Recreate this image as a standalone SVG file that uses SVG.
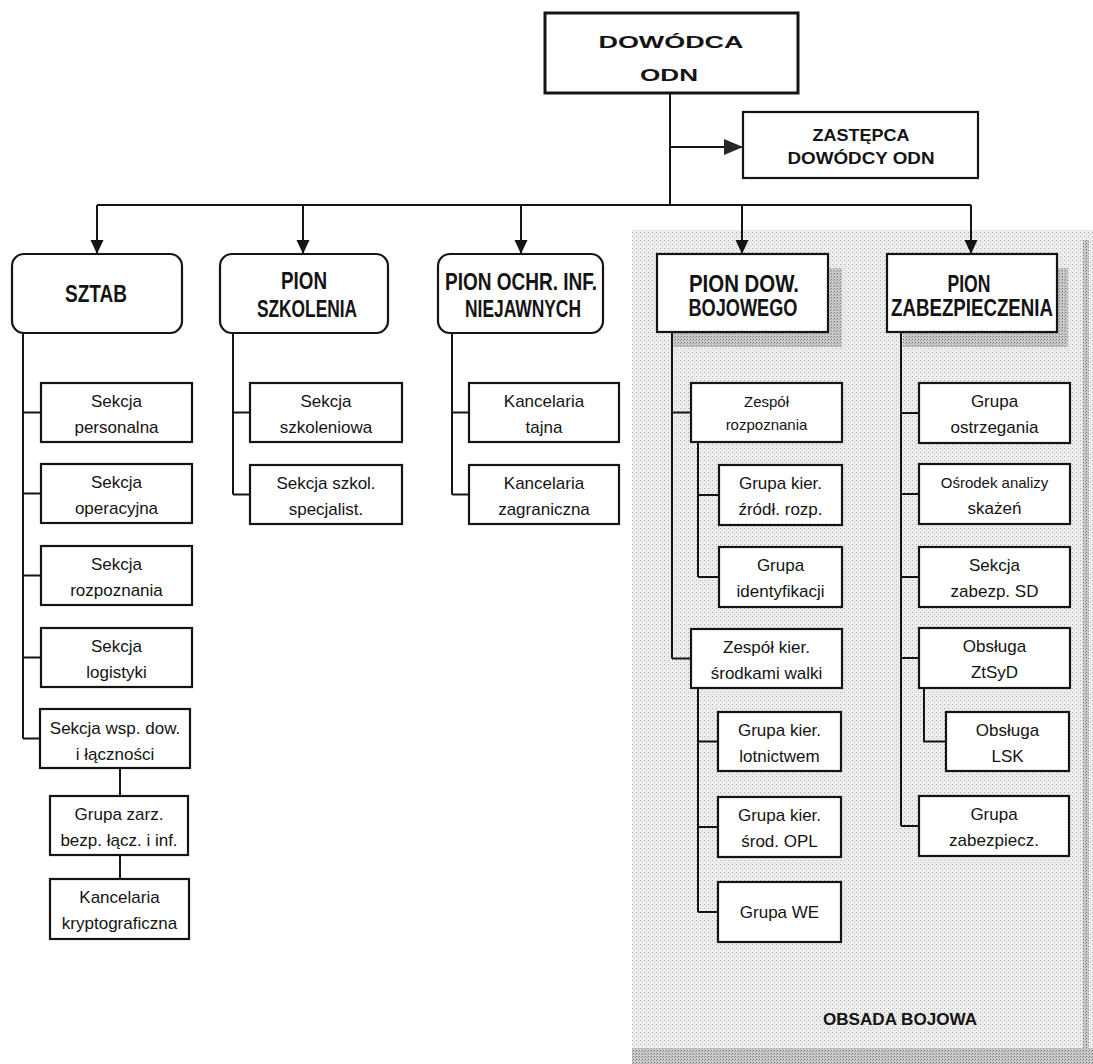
<svg xmlns="http://www.w3.org/2000/svg" width="1093" height="1064" viewBox="0 0 1093 1064">
  <defs>
    <style>
      .box { fill: #ffffff; stroke: #141414; stroke-width: 2.2; }
      .main { stroke-width: 3; }
      .conn { fill: none; stroke: #141414; stroke-width: 2; }
      .t { font-family: "Liberation Sans", Arial, sans-serif; font-size: 17px; text-anchor: middle; fill: #141414; }
      .s { font-size: 15px; }
      .h { font-weight: bold; font-size: 23px; }
    </style>
    <!-- screened grey background of the right-hand part of the page -->
    <pattern id="grain" width="4" height="4" patternUnits="userSpaceOnUse">
      <rect width="4" height="4" fill="#eeeeee"/>
      <rect x="0" y="0" width="1" height="1" fill="#aaaaaa"/>
      <rect x="2" y="2" width="1" height="1" fill="#c6c6c6"/>
    </pattern>
    <!-- darker screen used for drop shadows and page edges -->
    <pattern id="grainDark" width="3" height="3" patternUnits="userSpaceOnUse">
      <rect width="3" height="3" fill="#cbcbcb"/>
      <rect x="0" y="0" width="1" height="1" fill="#777777"/>
      <rect x="2" y="1" width="1" height="1" fill="#9a9a9a"/>
    </pattern>
    <marker id="arrow" markerUnits="userSpaceOnUse" markerWidth="14" markerHeight="14" refX="14" refY="6.5" orient="auto">
      <path d="M0,0 L14,6.5 L0,13 z" fill="#141414"/>
    </marker>
    <marker id="arrowBig" markerUnits="userSpaceOnUse" markerWidth="20" markerHeight="18" refX="19" refY="8" orient="auto">
      <path d="M0,0 L19,8 L0,16 z" fill="#262626"/>
    </marker>
  </defs>

  <rect width="1093" height="1064" fill="#ffffff"/>

  <!-- page background -->
  <g id="page">
    <rect x="632" y="230" width="461" height="834" fill="url(#grain)"/>
    <rect x="1083" y="240" width="6" height="824" fill="url(#grainDark)"/>
    <rect x="632" y="1048" width="461" height="16" fill="url(#grainDark)"/>
    <!-- drop shadows -->
    <path d="M828,268 H842 V347 H673 V332 H828 Z" fill="url(#grainDark)"/>
    <path d="M1057,268 H1068 V347 H903 V332 H1057 Z" fill="url(#grainDark)"/>
  </g>

  <g id="connectors">
    <!-- commander to deputy and to the five divisions -->
    <path class="conn" d="M670,93 V205"/>
    <path class="conn" d="M670,147 H743" marker-end="url(#arrowBig)"/>
    <path class="conn" d="M97,205 H971"/>
    <path class="conn" d="M97,205 V254" marker-end="url(#arrow)"/>
    <path class="conn" d="M303,205 V254" marker-end="url(#arrow)"/>
    <path class="conn" d="M521,205 V254" marker-end="url(#arrow)"/>
    <path class="conn" d="M742,205 V254" marker-end="url(#arrow)"/>
    <path class="conn" d="M971,205 V254" marker-end="url(#arrow)"/>
    <!-- SZTAB -->
    <path class="conn" d="M23,333 V738.5 M23,412.5 H41 M23,493.5 H41 M23,575.5 H41 M23,657.5 H41 M23,738.5 H41"/>
    <path class="conn" d="M120,768 V796 M120,855 V879"/>
    <!-- PION SZKOLENIA -->
    <path class="conn" d="M233,333 V494.5 M233,412.5 H250 M233,494.5 H250"/>
    <!-- PION OCHR. INF. NIEJAWNYCH -->
    <path class="conn" d="M452,333 V494.5 M452,412.5 H469 M452,494.5 H469"/>
    <!-- PION DOW. BOJOWEGO -->
    <path class="conn" d="M672,332 V658.5 M672,412.5 H691 M672,658.5 H691"/>
    <path class="conn" d="M698,442 V577 M698,495 H719 M698,577 H719"/>
    <path class="conn" d="M698,688 V912 M698,741.5 H718 M698,827 H718 M698,912 H718"/>
    <!-- PION ZABEZPIECZENIA -->
    <path class="conn" d="M901,332 V826 M901,413 H919 M901,494 H919 M901,577 H919 M901,658 H919 M901,826 H919"/>
    <path class="conn" d="M924,688 V741.5 H946"/>
  </g>

  <g id="dowodca">
    <rect class="box main" x="545" y="13" width="253" height="80"/>
    <text class="t" x="671" y="48" font-weight="bold" font-size="23" textLength="145" lengthAdjust="spacingAndGlyphs">DOWÓDCA</text>
    <text class="t" x="669" y="81" font-weight="bold" font-size="23" textLength="58" lengthAdjust="spacingAndGlyphs">ODN</text>
  </g>

  <g id="zastepca">
    <rect class="box" x="743" y="112" width="235" height="66"/>
    <text class="t" x="861" y="141" font-weight="bold" font-size="15" textLength="97" lengthAdjust="spacingAndGlyphs">ZASTĘPCA</text>
    <text class="t" x="861" y="164" font-weight="bold" font-size="15" textLength="147" lengthAdjust="spacingAndGlyphs">DOWÓDCY  ODN</text>
  </g>

  <g id="sztab">
    <rect class="box" x="12" y="254" width="170" height="79" rx="12"/>
    <text class="t h" x="96" y="302" textLength="62" lengthAdjust="spacingAndGlyphs">SZTAB</text>
  </g>
  <g id="pion-szkolenia">
    <rect class="box" x="220" y="254" width="168" height="79" rx="12"/>
    <text class="t h" x="304" y="289" textLength="46" lengthAdjust="spacingAndGlyphs">PION</text>
    <text class="t h" x="307" y="317" textLength="100" lengthAdjust="spacingAndGlyphs">SZKOLENIA</text>
  </g>
  <g id="pion-ochr">
    <rect class="box" x="438" y="254" width="165" height="79" rx="12"/>
    <text class="t h" x="521" y="290" textLength="152" lengthAdjust="spacingAndGlyphs">PION OCHR. INF.</text>
    <text class="t h" x="523" y="317" textLength="116" lengthAdjust="spacingAndGlyphs">NIEJAWNYCH</text>
  </g>
  <g id="pion-dow">
    <rect class="box" x="657" y="254" width="171" height="78"/>
    <text class="t h" x="744" y="292" textLength="110" lengthAdjust="spacingAndGlyphs">PION  DOW.</text>
    <text class="t h" x="743" y="316" textLength="109" lengthAdjust="spacingAndGlyphs">BOJOWEGO</text>
  </g>
  <g id="pion-zab">
    <rect class="box" x="887" y="254" width="170" height="78"/>
    <text class="t h" x="969" y="292" textLength="43" lengthAdjust="spacingAndGlyphs">PION</text>
    <text class="t h" x="972" y="316" textLength="162" lengthAdjust="spacingAndGlyphs">ZABEZPIECZENIA</text>
  </g>

  <!-- SZTAB sections -->
  <g id="sekcja-personalna">
    <rect class="box" x="41" y="383" width="151" height="59"/>
    <text class="t" x="116.5" y="407">Sekcja</text>
    <text class="t" x="116.5" y="433">personalna</text>
  </g>
  <g id="sekcja-operacyjna">
    <rect class="box" x="41" y="464" width="151" height="59"/>
    <text class="t" x="116.5" y="488">Sekcja</text>
    <text class="t" x="116.5" y="514">operacyjna</text>
  </g>
  <g id="sekcja-rozpoznania">
    <rect class="box" x="41" y="546" width="151" height="59"/>
    <text class="t" x="116.5" y="570">Sekcja</text>
    <text class="t" x="116.5" y="596">rozpoznania</text>
  </g>
  <g id="sekcja-logistyki">
    <rect class="box" x="41" y="628" width="151" height="59"/>
    <text class="t" x="116.5" y="652">Sekcja</text>
    <text class="t" x="116.5" y="678">logistyki</text>
  </g>
  <g id="sekcja-wsp-dow">
    <rect class="box" x="40" y="709" width="150" height="59"/>
    <text class="t" x="115" y="734">Sekcja wsp. dow.</text>
    <text class="t" x="115" y="760">i łączności</text>
  </g>
  <g id="grupa-zarz">
    <rect class="box" x="50" y="796" width="138" height="59"/>
    <text class="t" x="119" y="820">Grupa zarz.</text>
    <text class="t" x="119" y="846">bezp. łącz. i inf.</text>
  </g>
  <g id="kancelaria-kryptograficzna">
    <rect class="box" x="50" y="879" width="139" height="60"/>
    <text class="t" x="119.5" y="903">Kancelaria</text>
    <text class="t" x="119.5" y="929">kryptograficzna</text>
  </g>

  <!-- PION SZKOLENIA sections -->
  <g id="sekcja-szkoleniowa">
    <rect class="box" x="250" y="383" width="152" height="59"/>
    <text class="t" x="326" y="407">Sekcja</text>
    <text class="t" x="326" y="433">szkoleniowa</text>
  </g>
  <g id="sekcja-szkol-specjalist">
    <rect class="box" x="250" y="465" width="152" height="59"/>
    <text class="t" x="326" y="489">Sekcja szkol.</text>
    <text class="t" x="326" y="515">specjalist.</text>
  </g>

  <!-- PION OCHR. INF. NIEJAWNYCH sections -->
  <g id="kancelaria-tajna">
    <rect class="box" x="469" y="383" width="150" height="59"/>
    <text class="t" x="544" y="407">Kancelaria</text>
    <text class="t" x="544" y="433">tajna</text>
  </g>
  <g id="kancelaria-zagraniczna">
    <rect class="box" x="469" y="465" width="150" height="59"/>
    <text class="t" x="544" y="489">Kancelaria</text>
    <text class="t" x="544" y="515">zagraniczna</text>
  </g>

  <!-- PION DOW. BOJOWEGO sections -->
  <g id="zespol-rozpoznania">
    <rect class="box" x="691" y="383" width="151" height="59"/>
    <text class="t s" x="766.5" y="407">Zespół</text>
    <text class="t s" x="766.5" y="430">rozpoznania</text>
  </g>
  <g id="grupa-kier-zrodl">
    <rect class="box" x="719" y="465" width="123" height="60"/>
    <text class="t" x="780.5" y="489">Grupa kier.</text>
    <text class="t" x="780.5" y="515">źródł. rozp.</text>
  </g>
  <g id="grupa-identyfikacji">
    <rect class="box" x="719" y="547" width="123" height="60"/>
    <text class="t" x="780.5" y="571">Grupa</text>
    <text class="t" x="780.5" y="597">identyfikacji</text>
  </g>
  <g id="zespol-kier-srodkami">
    <rect class="box" x="691" y="629" width="151" height="59"/>
    <text class="t" x="766.5" y="653">Zespół  kier.</text>
    <text class="t" x="766.5" y="679">środkami walki</text>
  </g>
  <g id="grupa-kier-lotnictwem">
    <rect class="box" x="718" y="712" width="123" height="59"/>
    <text class="t" x="779.5" y="736">Grupa kier.</text>
    <text class="t" x="779.5" y="762">lotnictwem</text>
  </g>
  <g id="grupa-kier-opl">
    <rect class="box" x="718" y="797" width="123" height="60"/>
    <text class="t" x="779.5" y="821">Grupa kier.</text>
    <text class="t" x="779.5" y="847">środ. OPL</text>
  </g>
  <g id="grupa-we">
    <rect class="box" x="718" y="882" width="123" height="60"/>
    <text class="t" x="779.5" y="918">Grupa WE</text>
  </g>

  <!-- PION ZABEZPIECZENIA sections -->
  <g id="grupa-ostrzegania">
    <rect class="box" x="919" y="383" width="151" height="60"/>
    <text class="t" x="994.5" y="407">Grupa</text>
    <text class="t" x="994.5" y="433">ostrzegania</text>
  </g>
  <g id="osrodek-analizy">
    <rect class="box" x="919" y="464" width="151" height="60"/>
    <text class="t s" x="994.5" y="488">Ośrodek analizy</text>
    <text class="t" x="994.5" y="514">skażeń</text>
  </g>
  <g id="sekcja-zabezp-sd">
    <rect class="box" x="919" y="547" width="151" height="60"/>
    <text class="t" x="994.5" y="571">Sekcja</text>
    <text class="t" x="994.5" y="597">zabezp. SD</text>
  </g>
  <g id="obsluga-ztsyd">
    <rect class="box" x="919" y="628" width="151" height="60"/>
    <text class="t" x="994.5" y="652">Obsługa</text>
    <text class="t" x="994.5" y="678">ZtSyD</text>
  </g>
  <g id="obsluga-lsk">
    <rect class="box" x="946" y="712" width="123" height="59"/>
    <text class="t" x="1007.5" y="736">Obsługa</text>
    <text class="t" x="1007.5" y="762">LSK</text>
  </g>
  <g id="grupa-zabezpiecz">
    <rect class="box" x="919" y="796" width="150" height="60"/>
    <text class="t" x="994" y="820">Grupa</text>
    <text class="t" x="994" y="846">zabezpiecz.</text>
  </g>

  <text class="t" x="900" y="1025" font-weight="bold" font-size="19" textLength="154" lengthAdjust="spacingAndGlyphs">OBSADA BOJOWA</text>
</svg>
